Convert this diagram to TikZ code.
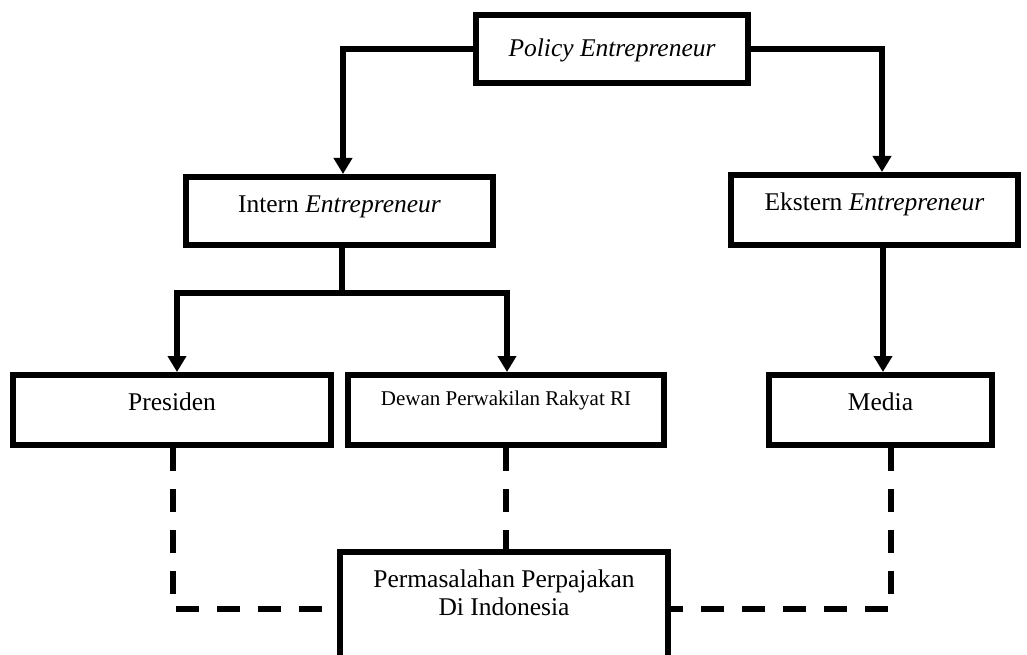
\documentclass[tikz,border=0pt]{standalone}
\usepackage{fontspec}
\setmainfont{Liberation Serif}
\usetikzlibrary{arrows.meta}
\begin{document}
\begin{tikzpicture}[x=1pt,y=-1pt,
  box/.style={draw, line width=6pt, rectangle, inner sep=0pt},
  txt/.style={font=\fontsize{25.5}{28}\selectfont, anchor=base, inner sep=0pt},
  small/.style={font=\fontsize{21}{24}\selectfont},
  conn/.style={line width=5.5pt},
  arr/.style={conn, -{Triangle[width=18pt,length=16pt]}},
  dsh/.style={conn, dash pattern=on 23pt off 18pt}]
\useasboundingbox (0,0) rectangle (1027,655);
% boxes
\node[box, minimum width=272pt, minimum height=68pt] (policy) at (612,49) {};
\node[box, minimum width=307pt, minimum height=68pt] (intern) at (339.5,211) {};
\node[box, minimum width=287pt, minimum height=70pt] (ekstern) at (874.5,210) {};
\node[box, minimum width=318pt, minimum height=70pt] (pres) at (172,410) {};
\node[box, minimum width=316pt, minimum height=70pt] (dewan) at (506,410) {};
\node[box, minimum width=223pt, minimum height=70pt] (media) at (880.5,410) {};
\node[box, minimum width=328pt, minimum height=114pt] (perm) at (504,609) {};
% texts
\node[txt] (policyT) at (612,57) {\itshape Policy Entrepreneur};
\node[txt] (internT) at (339.5,212) {Intern \textit{Entrepreneur}};
\node[txt] (eksternT) at (874.5,210) {Ekstern \textit{Entrepreneur}};
\node[txt] (presT) at (172,410) {Presiden};
\node[txt, small] (dewanT) at (506,405) {Dewan Perwakilan Rakyat RI};
\node[txt] (mediaT) at (880.5,410) {Media};
\node[txt] (permT1) at (504,587) {Permasalahan Perpajakan};
\node[txt] (permT2) at (504,615) {Di Indonesia};
% solid connectors
\draw[arr] (policy.west) -| ([xshift=3.5]intern.north);
\draw[arr] (policy.east) -| ([xshift=7.5]ekstern.north);
\coordinate (split) at (342,293);
\draw[conn] (intern.south -| split) -- (split);
\draw[arr] (split) -| ([xshift=5]pres.north);
\draw[arr] (split) -| ([xshift=1]dewan.north);
\draw[arr] ([xshift=8.5]ekstern.south) -- ([xshift=2.5]media.north);
% dashed connectors
\draw[dsh] ([xshift=1]pres.south) |- (perm.west);
\draw[dsh] (dewan.south) -- (dewan.south |- perm.north);
\draw[dsh] ([xshift=10.5]media.south) |- (perm.east);
\end{tikzpicture}
\end{document}
